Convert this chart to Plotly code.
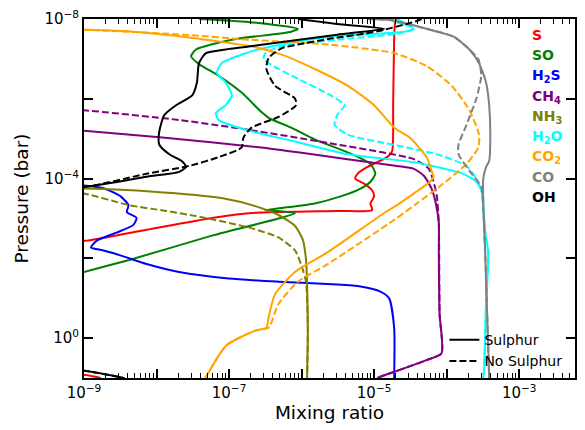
import plotly.graph_objects as go

# ---------------- data (mixing ratio, pressure in bar) ----------------
S_sul_x = [2.07e-5, 1.95e-5, 1.89e-5, 1.83e-5, 1.77e-5, 1.51e-5, 1.1e-5, 8.1e-6, 5.9e-6, 5.5e-6, 7.3e-6, 9.4e-6,
           1.0e-5, 8.9e-6, 9.4e-6, 3.1e-6, 2.04e-7, 5.8e-8, 7.3e-9, 1.1e-9, 1e-11, 1e-11, 1.0e-9, 1.7e-9]
S_sul_p = [1e-8, 1.19e-8, 3.3e-8, 1.45e-6, 2.07e-5, 2.9e-5, 3.9e-5, 5.1e-5, 7.6e-5, 1.01e-4, 1.34e-4, 2.0e-4,
           2.8e-4, 4.2e-4, 6.2e-4, 6.5e-4, 7.3e-4, 9.7e-4, 1.92e-3, 3.6e-3, 6e-3, 5, 8.3, 10]

SO_sul_x = [3.85e-8, 1.85e-7, 8.9e-7, 7.2e-7, 1.09e-7, 3.5e-8, 3.0e-8, 3.85e-8, 7.2e-8, 1.49e-7, 2.8e-7, 3.5e-7,
            7.2e-7, 1.52e-6, 4.3e-6, 8.9e-6, 1.04e-5, 8.9e-6, 6.5e-6, 3.45e-6, 1.52e-6, 5.2e-7, 3.16e-7, 8.1e-7,
            5.8e-8, 4.2e-9, 1.0e-9, 3e-10]
SO_sul_p = [1e-8, 1.19e-8, 1.76e-8, 2.08e-8, 3.3e-8, 5.8e-8, 8.6e-8, 1.35e-7, 2.66e-7, 7.0e-7, 2.16e-6, 3.0e-6,
            5.3e-6, 1.05e-5, 2.2e-5, 4.3e-5, 7.6e-5, 1.2e-4, 1.78e-4, 2.8e-4, 4.2e-4, 5.5e-4, 6.2e-4, 7.3e-4,
            2.7e-3, 1.1e-2, 2.2e-2, 4e-2]

H2S_sul_x = [5e-10, 1.0e-9, 1.9e-9, 3.2e-9, 4.1e-9, 3.9e-9, 5.3e-9, 4.8e-9, 2.8e-9, 1.5e-9, 1.25e-9, 1.8e-9,
             3.1e-9, 7.3e-9, 2.05e-8, 9.9e-8, 4.8e-7, 3.1e-6, 6.5e-6, 1.22e-5, 1.61e-5, 1.89e-5, 1.89e-5]
H2S_sul_p = [1.4e-4, 1.5e-4, 1.78e-4, 2.8e-4, 4.65e-4, 6.9e-4, 9.7e-4, 1.45e-3, 2.27e-3, 3.6e-3, 5.3e-3, 6.3e-3,
             8.3e-3, 1.39e-2, 2.2e-2, 3.2e-2, 3.85e-2, 4.55e-2, 5.1e-2, 6.8e-2, 0.1, 0.55, 10]

CH4_sul_x = [5e-10, 1.0e-9, 1.2e-8, 2.8e-7, 8.9e-7, 4.3e-6, 2.07e-5, 3.54e-5, 4.85e-5, 6.2e-5, 7.1e-5, 7.8e-5,
             7.8e-5, 8.0e-5, 8.5e-5, 5.3e-5, 1.22e-5, 1.1e-5]
CH4_sul_p = [5.8e-6, 6.3e-6, 9.4e-6, 1.66e-5, 2.2e-5, 3.27e-5, 4.85e-5, 5.7e-5, 8.5e-5, 1.78e-4, 4.2e-4, 1.29e-3,
             7.0e-3, 0.25, 2.4, 3.55, 9.3, 10]
CH4_nos_x = [5e-10, 1.0e-9, 2.05e-8, 1.85e-7, 3.1e-6, 3.54e-5, 5.7e-5, 6.6e-5, 7.3e-5, 7.8e-5, 8.0e-5, 8.5e-5,
             5.3e-5, 1.22e-5, 1.1e-5]
CH4_nos_p = [1.75e-6, 1.93e-6, 3.4e-6, 6.0e-6, 1.4e-5, 3.27e-5, 5.7e-5, 1.2e-4, 2.65e-4, 1.29e-3, 0.25, 2.4,
             3.55, 9.3, 10]

NH3_sul_x = [5e-10, 1.0e-9, 8.2e-9, 8.2e-8, 2.3e-7, 4.8e-7, 8.1e-7, 1.04e-6, 1.15e-6, 1.19e-6, 1.22e-6, 1.19e-6]
NH3_sul_p = [1.75e-4, 1.78e-4, 2.1e-4, 3.1e-4, 4.9e-4, 8.2e-4, 1.53e-3, 3.4e-3, 1.05e-2, 3.85e-2, 0.65, 10]
NH3_nos_x = [5e-10, 1.0e-9, 4.2e-9, 1.36e-8, 3.5e-8, 1.9e-7, 4.8e-7, 8.1e-7, 9.8e-7, 1.15e-6, 1.22e-6, 1.19e-6]
NH3_nos_p = [2.1e-4, 2.36e-4, 4.65e-4, 6.5e-4, 8.7e-4, 1.7e-3, 3.0e-3, 6.3e-3, 1.39e-2, 3.85e-2, 0.65, 10]

H2O_sul_x = [1.51e-5, 3.54e-5, 2.6e-5, 2.52e-6, 5.2e-7, 2.54e-7, 1.69e-7, 7.9e-8, 6.8e-8, 9.0e-8, 1.09e-7, 9.0e-8,
             6.6e-8, 7.2e-8, 1.69e-7, 8.1e-7, 4.3e-6, 3.54e-5, 7.3e-5, 1.7e-4, 2.57e-4, 3.0e-4, 3.2e-4, 3.4e-4,
             3.75e-4, 3.5e-4, 3.3e-4, 3.2e-4]
H2O_sul_p = [1e-8, 1.76e-8, 2.08e-8, 2.77e-8, 4.35e-8, 5.8e-8, 7.2e-8, 1.28e-7, 2.24e-7, 3.95e-7, 8.2e-7, 1.45e-6,
             2.28e-6, 3.4e-6, 6.0e-6, 1.18e-5, 2.46e-5, 3.9e-5, 5.1e-5, 7.6e-5, 1.2e-4, 2.0e-4, 4.9e-4, 2.27e-3,
             7.0e-3, 0.12, 5.3, 10]
H2O_nos_x = [2.07e-5, 3.54e-5, 2.07e-5, 3.1e-6, 5.2e-7, 3.16e-7, 3.0e-7, 3.5e-7, 4.8e-7, 8.9e-7, 2.52e-6, 3.9e-6,
             3.1e-6, 2.86e-6, 4.3e-6, 2.07e-5, 7.3e-5, 1.88e-4, 2.57e-4, 3.2e-4, 3.2e-4, 3.4e-4, 3.75e-4, 3.5e-4,
             3.3e-4, 3.2e-4]
H2O_nos_p = [1e-8, 1.76e-8, 2.34e-8, 3.3e-8, 4.9e-8, 7.2e-8, 1.0e-7, 1.28e-7, 1.79e-7, 3.15e-7, 8.2e-7, 1.45e-6,
             2.56e-6, 4.5e-6, 7.9e-6, 1.48e-5, 2.46e-5, 4.85e-5, 1.01e-4, 2.8e-4, 4.9e-4, 2.27e-3, 7.0e-3, 0.12,
             5.3, 10]

CO2_sul_x = [5e-10, 1.0e-9, 4.8e-9, 2.32e-8, 1.12e-7, 2.1e-7, 5.2e-7, 1.52e-6, 4.3e-6, 1.0e-5, 1.89e-5, 3.1e-5,
             5.3e-5, 6.2e-5, 6.6e-5, 5.9e-5, 3.54e-5, 2.07e-5, 1.38e-5, 2.3e-6, 8.1e-7, 4.3e-7, 3.5e-7, 3.27e-7,
             2.3e-7, 9.2e-8, 4.8e-8, 4.65e-8]
CO2_sul_p = [1.8e-8, 1.86e-8, 2.08e-8, 2.77e-8, 4.1e-8, 4.9e-8, 7.7e-8, 1.79e-7, 4.7e-7, 1.45e-6, 5.3e-6, 9.4e-6,
             2.9e-5, 6.4e-5, 9.0e-5, 1.2e-4, 2.36e-4, 4.65e-4, 7.3e-4, 7.0e-3, 2.2e-2, 0.08, 0.31, 0.55,
             0.65, 1.52, 9.3, 10]
CO2_nos_x = [5e-10, 1.0e-9, 2.32e-8, 1.9e-7, 2.3e-6, 1.89e-5, 5.3e-5, 1.17e-4, 2.06e-4, 2.8e-4, 2.74e-4, 1.88e-4,
             8.0e-5, 3.9e-5, 1.89e-5, 2.3e-6, 8.9e-7, 4.8e-7, 3.5e-7, 2.3e-7, 9.2e-8, 4.8e-8, 4.65e-8]
CO2_nos_p = [1.8e-8, 1.86e-8, 2.47e-8, 3.3e-8, 4.35e-8, 7.2e-8, 1.51e-7, 4.7e-7, 1.93e-6, 7.9e-6, 1.66e-5, 4.3e-5,
             1.59e-4, 4.2e-4, 1.09e-3, 1.39e-2, 3.85e-2, 0.14, 0.55, 0.65, 1.52, 9.3, 10]

CO_sul_x = [8.1e-6, 1.66e-5, 5.3e-5, 1.25e-4, 2.06e-4, 2.8e-4, 3.5e-4, 3.86e-4, 4.0e-4, 3.86e-4, 3.5e-4, 3.2e-4,
            3.2e-4, 3.4e-4, 3.5e-4, 3.86e-4, 3.86e-4]
CO_sul_p = [1e-8, 1.06e-8, 1.76e-8, 2.77e-8, 5.8e-8, 1.28e-7, 3.95e-7, 1.45e-6, 7.9e-6, 3.66e-5, 5.1e-5, 1.01e-4,
            4.2e-4, 7.0e-3, 3.85e-2, 9.3, 10]
CO_nos_x = [8.1e-6, 1.66e-5, 5.3e-5, 1.25e-4, 2.06e-4, 2.74e-4, 3.0e-4, 2.57e-4, 1.88e-4, 1.46e-4, 1.46e-4, 2.06e-4,
            3.0e-4, 3.2e-4, 3.4e-4, 3.5e-4, 3.86e-4]
CO_nos_p = [1e-8, 1.06e-8, 1.76e-8, 2.77e-8, 5.8e-8, 1.02e-7, 2.66e-7, 9.8e-7, 4.5e-6, 1.4e-5, 2.46e-5, 6.4e-5,
            1.59e-4, 6.2e-4, 7.0e-3, 3.85e-2, 10]

OH_sul_x = [8.9e-7, 3.1e-6, 1.38e-5, 3.1e-6, 1.85e-7, 9.0e-8, 4.8e-8, 3.85e-8, 3.6e-8, 3.1e-8, 1.86e-8, 1.28e-8,
            1.09e-8, 1.09e-8, 1.5e-8, 2.25e-8, 2.55e-8, 2.05e-8, 7.3e-9, 1.1e-9, 1e-11, 1e-11, 1.0e-9, 3.4e-9, 3.6e-9]
OH_sul_p = [1e-8, 1.33e-8, 1.76e-8, 2.47e-8, 4.9e-8, 5.8e-8, 7.2e-8, 1.28e-7, 3.95e-7, 8.2e-7, 1.45e-6, 2.56e-6,
            6.7e-6, 1.4e-5, 2.46e-5, 3.66e-5, 5.1e-5, 6.8e-5, 9.0e-5, 1.59e-4, 3e-4, 5, 6.6, 9.8, 10]
OH_nos_x = [4.5e-5, 3.9e-5, 1.38e-5, 7.3e-6, 2.52e-6, 8.9e-7, 5.2e-7, 3.5e-7, 3.27e-7, 4.3e-7, 8.1e-7, 8.4e-7,
            4.8e-7, 2.04e-7, 1.58e-7, 1.49e-7, 7.2e-8, 2.8e-8, 7.3e-9, 1.1e-9, 1e-11, 1e-11, 1.0e-9, 3.4e-9, 3.6e-9]
OH_nos_p = [1e-8, 1.12e-8, 1.86e-8, 2.34e-8, 3.1e-8, 4.35e-8, 5.5e-8, 9.6e-8, 1.79e-7, 4.7e-7, 9.8e-7, 1.45e-6,
            2.86e-6, 5.3e-6, 9.4e-6, 1.66e-5, 2.9e-5, 4.85e-5, 7.6e-5, 1.59e-4, 3e-4, 5, 6.6, 9.8, 10]

species_labels = ["S", "SO", "H<sub>2</sub>S", "CH<sub>4</sub>", "NH<sub>3</sub>",
                  "H<sub>2</sub>O", "CO<sub>2</sub>", "CO", "OH"]
species_colors = ["#ff0000", "#008000", "#0000ff", "#800080", "#808000",
                  "#00ffff", "#ffa500", "#808080", "#000000"]

x_tick_vals = [1e-9, 1e-8, 1e-7, 1e-6, 1e-5, 1e-4, 1e-3]
x_tick_text = ["10<sup>−9</sup>", "", "10<sup>−7</sup>", "", "10<sup>−5</sup>", "", "10<sup>−3</sup>"]
y_tick_vals = [1e-8, 1e-6, 1e-4, 1e-2, 1e0]
y_tick_text = ["10<sup>−8</sup>", "", "10<sup>−4</sup>", "", "10<sup>0</sup>"]

# ---------------- figure ----------------
curves = [
    ("S", S_sul_x, S_sul_p, None, None),
    ("SO", SO_sul_x, SO_sul_p, None, None),
    ("H2S", H2S_sul_x, H2S_sul_p, None, None),
    ("CH4", CH4_sul_x, CH4_sul_p, CH4_nos_x, CH4_nos_p),
    ("NH3", NH3_sul_x, NH3_sul_p, NH3_nos_x, NH3_nos_p),
    ("H2O", H2O_sul_x, H2O_sul_p, H2O_nos_x, H2O_nos_p),
    ("CO2", CO2_sul_x, CO2_sul_p, CO2_nos_x, CO2_nos_p),
    ("CO", CO_sul_x, CO_sul_p, CO_nos_x, CO_nos_p),
    ("OH", OH_sul_x, OH_sul_p, OH_nos_x, OH_nos_p),
]

DASH = "7px,3px"
fig = go.Figure()
for (name, sx, sp, nx, np_), col in zip(curves, species_colors):
    fig.add_trace(go.Scatter(x=sx, y=sp, mode="lines",
                             line=dict(color=col, width=2, shape="spline", smoothing=0.6),
                             showlegend=False, hoverinfo="skip"))
    if nx is not None:
        fig.add_trace(go.Scatter(x=nx, y=np_, mode="lines",
                                 line=dict(color=col, width=2, dash=DASH, shape="spline", smoothing=0.6),
                                 showlegend=False, hoverinfo="skip"))

# line-style legend
fig.add_trace(go.Scatter(x=[None], y=[None], mode="lines", name="Sulphur",
                         line=dict(color="black", width=2)))
fig.add_trace(go.Scatter(x=[None], y=[None], mode="lines", name="No Sulphur",
                         line=dict(color="black", width=2, dash=DASH)))

# species labels
label_y = [0.956, 0.899, 0.842, 0.784, 0.727, 0.672, 0.615, 0.560, 0.505]
for lab, col, yy in zip(species_labels, species_colors, label_y):
    fig.add_annotation(text="<b>" + lab + "</b>", xref="paper", yref="paper", x=0.909, y=yy,
                       xanchor="left", yanchor="middle", showarrow=False,
                       font=dict(family="DejaVu Sans", size=14, color=col))

minor_x = [m * 10.0 ** e for e in range(-9, -2) for m in range(2, 10)]

axis_common = dict(type="log", showline=True, linewidth=2, linecolor="black", mirror="allticks",
                   ticks="inside", ticklen=9, tickwidth=1.5, tickcolor="black", showgrid=False,
                   zeroline=False, tickfont=dict(family="DejaVu Sans", size=15, color="black"),
                   tickmode="array")

fig.update_xaxes(**axis_common, range=[-9, -2.23], tickvals=x_tick_vals, ticktext=x_tick_text,
                 minor=dict(ticks="inside", ticklen=5, tickwidth=1.2, tickcolor="black",
                            tickvals=minor_x, showgrid=False),
                 title=dict(text="Mixing ratio", font=dict(family="DejaVu Sans", size=18.5, color="black"),
                            standoff=5))
fig.update_yaxes(**axis_common, range=[1, -8], tickvals=y_tick_vals, ticktext=y_tick_text,
                 title=dict(text="Pressure (bar)", font=dict(family="DejaVu Sans", size=18.5, color="black"),
                            standoff=11))

fig.update_layout(
    width=585, height=430,
    margin=dict(l=84, r=8, t=12, b=52),
    paper_bgcolor="white", plot_bgcolor="white",
    font=dict(family="DejaVu Sans", color="black"),
    legend=dict(x=0.734, y=0.150, xanchor="left", yanchor="top", bgcolor="rgba(0,0,0,0)",
                font=dict(family="DejaVu Sans", size=14, color="black"), tracegroupgap=0,
                itemwidth=30),
)

fig.write_html("out.html")
